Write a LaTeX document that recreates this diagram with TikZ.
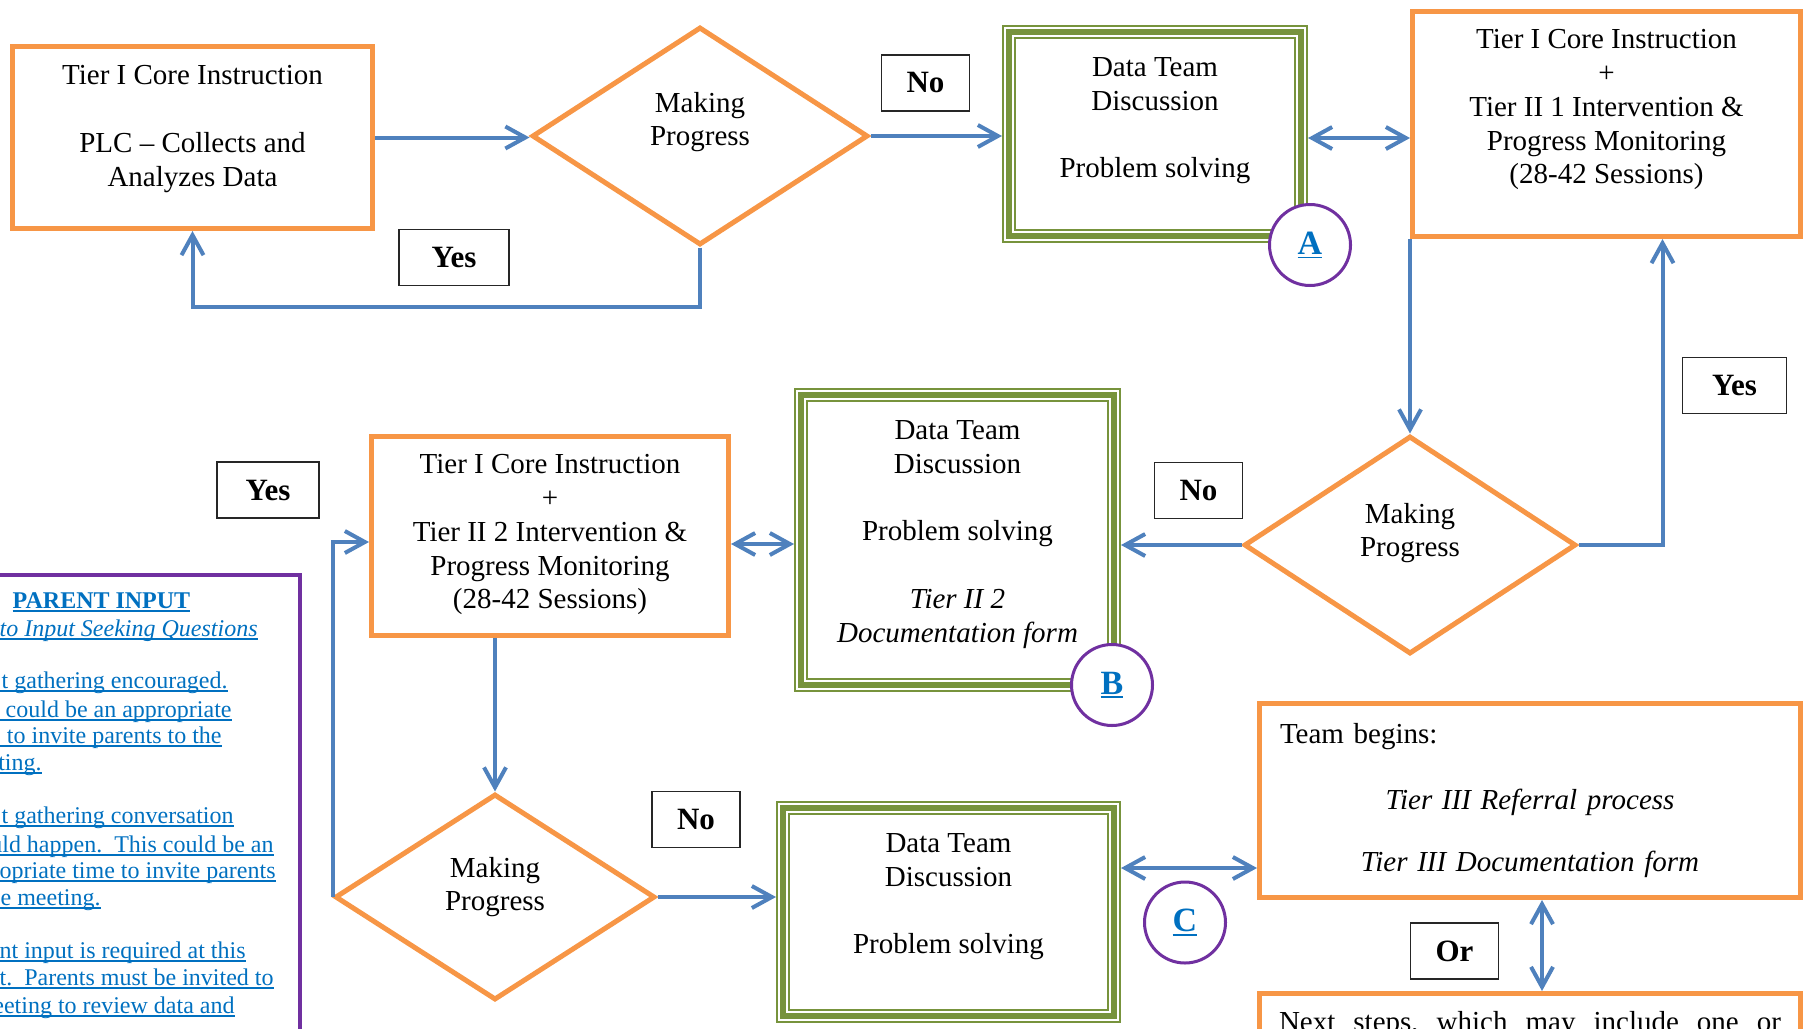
\documentclass[tikz,border=0pt]{standalone}
\usepackage{fontspec}
\setmainfont{Liberation Serif}
\usetikzlibrary{shapes.geometric, arrows.meta, positioning}

\definecolor{boxorange}{HTML}{F79646}
\definecolor{arrowblue}{HTML}{4F81BD}
\definecolor{teamgreen}{HTML}{77933C}
\definecolor{notepurple}{HTML}{7030A0}
\definecolor{linkblue}{HTML}{0070C0}

% underlined link text
\newcommand{\lnk}[1]{\setbox0=\hbox{#1}\rlap{\rule[-1.9pt]{\wd0}{0.8pt}}\box0}

\tikzset{
  boxfont/.style={font=\fontsize{14.5}{16.9}\selectfont},
  tierbox/.style={rectangle, draw=boxorange, line width=2.5pt, inner sep=0pt},
  teambox/.style={rectangle, inner sep=0pt, outer sep=3.5pt, draw=teamgreen, line width=3pt,
    preaction={draw=teamgreen, line width=7pt}, preaction={draw=white, line width=5pt}},
  decision/.style={diamond, draw=boxorange, line width=2.5pt, inner sep=0pt},
  boxtext/.style={boxfont, align=center, inner sep=0pt},
  answer/.style={draw=black!85, line width=0.75pt, minimum width=44pt, minimum height=28pt,
    inner sep=0pt, font=\fontsize{15.5}{18}\selectfont\bfseries},
  badge/.style={circle, draw=notepurple, line width=1.5pt, fill=white, minimum size=40.5pt,
    inner sep=0pt, text=linkblue, font=\fontsize{17}{19}\selectfont\bfseries},
  flow/.style={draw=arrowblue, line width=2pt, -{Straight Barb[length=10pt,width=11pt]}},
  both/.style={draw=arrowblue, line width=2pt,
    {Straight Barb[length=10pt,width=11pt]}-{Straight Barb[length=10pt,width=11pt]}},
  parentline/.style={anchor=base east, inner sep=0pt, text=linkblue, font=\fontsize{12}{13.8}\selectfont},
}

\begin{document}
\begin{tikzpicture}[x=0.5pt,y=-0.5pt]

\useasboundingbox (0,0) rectangle (1807,1028);
\clip (0,0) rectangle (1807,1028);

% top row
\node[tierbox, minimum width=180pt, minimum height=91pt] (core1) at (192.5,137.5) {};
\node[boxtext, below=10.5pt of core1.north] (core1txt) {Tier I Core Instruction\\[16.9pt]PLC -- Collects and\\Analyzes Data};

\node[decision, minimum width=168pt, minimum height=109pt] (dm1) at (700,136) {};
\node[boxtext] (dm1txt) at ([yshift=7pt]dm1.center) {Making\\Progress};

\node[answer, minimum width=55pt] (yes1) at (454,257.5) {Yes};
\node[answer] (no1) at (925.5,83) {No};

\node[teambox, minimum width=146pt, minimum height=102pt] (dt1) at (1155,134) {};
\node[boxtext, below=16pt of dt1.north] (dt1txt) {Data Team\\Discussion\\[16.9pt]Problem solving};

\node[tierbox, minimum width=194pt, minimum height=112.5pt] (core2) at (1606.5,124) {};
\node[boxtext, below=10pt of core2.north] (core2txt) {Tier I Core Instruction\\+\\Tier II 1 Intervention \&\\Progress Monitoring\\(28-42 Sessions)};

% middle row
\node[decision, minimum width=166pt, minimum height=109pt] (dm2) at (1410,545) {};
\node[boxtext] (dm2txt) at ([yshift=6pt]dm2.center) {Making\\Progress};

\node[answer, minimum width=52pt] (yes2) at (1734.5,385.5) {Yes};
\node[answer] (no2) at (1198.5,490.5) {No};

\node[teambox, minimum width=156.5pt, minimum height=145pt] (dt2) at (957.5,540) {};
\node[boxtext, below=16pt of dt2.north] (dt2txt) {Data Team\\Discussion\\[16.9pt]Problem solving\\[16.9pt]\textit{Tier II 2}\\\textit{Documentation form}};

\node[tierbox, minimum width=178.5pt, minimum height=99.5pt] (core3) at (550,536) {};
\node[boxtext, below=10pt of core3.north] (core3txt) {Tier I Core Instruction\\+\\Tier II 2 Intervention \&\\Progress Monitoring\\(28-42 Sessions)};

\node[answer, minimum width=51pt] (yes3) at (268,490) {Yes};

% bottom row
\node[decision, minimum width=160pt, minimum height=103pt] (dm3) at (495,897) {};
\node[boxtext] (dm3txt) at ([yshift=5pt]dm3.center) {Making\\Progress};

\node[answer] (no3) at (696,819.5) {No};

\node[teambox, minimum width=165.5pt, minimum height=104pt] (dt3) at (948.5,912) {};
\node[boxtext, below=16pt of dt3.north] (dt3txt) {Data Team\\Discussion\\[16.9pt]Problem solving};

\node[tierbox, minimum width=270.5pt, minimum height=97pt] (nx1) at (1530,800.5) {};
\node[boxtext, text width=250pt, below=11pt of nx1.north] (nx1txt) {Team begins:\hfill\null\\[16.1pt]\textit{Tier III Referral process}\\[14.1pt]\textit{Tier III Documentation form}};

\node[answer] (or1) at (1454.5,951) {Or};

\node[tierbox, minimum width=270.5pt, minimum height=80pt] (nx2) at (1530,1073.5) {};
\node[boxtext, text width=251pt, align=left, below=10pt of nx2.north] (nx2txt) {Next\hfill steps,\hfill which\hfill may\hfill include\hfill one\hfill or};

% parent input panel
\node[draw=notepurple, line width=2.25pt, minimum width=169.9pt, minimum height=262.4pt, inner sep=0pt] (parent) at (129.9,837.6) {};
\node[parentline, anchor=base, font=\fontsize{12}{13.8}\selectfont\bfseries] (p1) at (101.5,608) {\lnk{PARENT INPUT}};
\node[parentline] (p2) at (258,636) {\itshape\lnk{\hspace{40pt}to Input Seeking Questions}};
\node[parentline] (p3) at (228,688) {\lnk{\hspace{40pt}t gathering encouraged.}};
\node[parentline] (p4) at (232,717) {\lnk{\hspace{40pt}could be an appropriate}};
\node[parentline] (p5) at (222,743) {\lnk{\hspace{40pt}to invite parents to the}};
\node[parentline] (p6) at (42,770) {\lnk{\hspace{40pt}ting.}};
\node[parentline] (p7) at (234,823) {\lnk{\hspace{40pt}t gathering conversation}};
\node[parentline] (p8) at (274,852) {\lnk{\hspace{40pt}uld happen.\ \ This could be an}};
\node[parentline] (p9) at (276,878) {\lnk{\hspace{40pt}ropriate time to invite parents}};
\node[parentline] (p10) at (101,905) {\lnk{\hspace{40pt}e meeting.}};
\node[parentline] (p11) at (246,958) {\lnk{\hspace{40pt}nt input is required at this}};
\node[parentline] (p12) at (274,985) {\lnk{\hspace{40pt}t.\ \ Parents must be invited to}};
\node[parentline] (p13) at (235,1013) {\lnk{\hspace{40pt}eeting to review data and}};

% connectors
\draw[flow] (core1.east) -- (core1.east -| dm1.west);
\draw[flow] (dm1.south) -- ++(0,59) -| (core1.south);
\draw[flow] (dm1.east) -- (dm1.east -| dt1.west);
\draw[both] ([yshift=-2pt]dt1.east) -- ([yshift=-2pt]dt1.east -| core2.west);
\draw[flow] (core2.south west) -- (dm2.north);
\draw[flow] (dm2.east) -| ([xshift=28pt]core2.south);
\draw[flow] (dm2.west) -- (dm2.west -| dt2.east);
\draw[both] ([yshift=-2pt]dt2.west) -- ([yshift=-2pt]dt2.west -| core3.east);
\draw[flow] (dm3.north |- core3.south) -- (dm3.north);
\draw[flow] (dm3.west) |- ([yshift=-3pt]core3.west);
\draw[flow] (dm3.east) -- (dm3.east -| dt3.west);
\draw[both] ([yshift=22pt]dt3.east) -- ([yshift=22pt]dt3.east -| nx1.west);
\draw[both] ([xshift=6pt]nx1.south) -- ([xshift=6pt]nx1.south |- nx2.north);

% reference circles
\node[badge] (refA) at (1310,245) {\lnk{A}};
\node[badge] (refB) at (1112,685) {\lnk{B}};
\node[badge] (refC) at (1185,922.5) {\lnk{C}};

\end{tikzpicture}
\end{document}
